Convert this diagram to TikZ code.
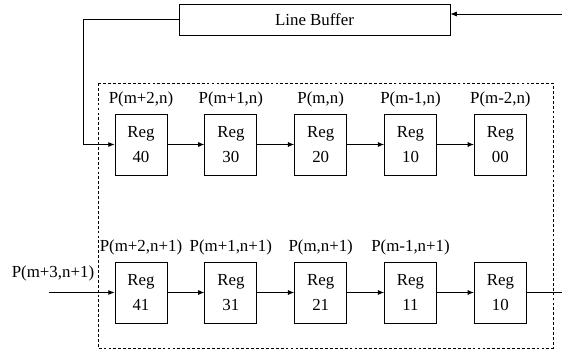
\documentclass[tikz,border=0pt]{standalone}
\usepackage{fontspec}
\setmainfont{Liberation Serif}
\usepackage{tikz}
\usetikzlibrary{arrows, arrows.meta, positioning, calc}

\begin{document}
\begin{tikzpicture}[
  node distance=0.925cm,
  reg/.style={rectangle, draw, line width=0.6pt, minimum width=1.3cm, minimum height=1.525cm, inner sep=0pt, align=center, font=\fontsize{12}{18}\selectfont},
  buffer/.style={rectangle, draw, line width=0.6pt, minimum width=6.775cm, minimum height=0.775cm, font=\fontsize{12}{14}\selectfont},
  plabel/.style={inner sep=1pt, font=\fontsize{12}{14}\selectfont},
  arrow/.style={-{Latex[length=4.5pt, width=3.6pt]}, line width=0.6pt}
]
\useasboundingbox (0,0) rectangle (14.05,-8.75);

\node[buffer] (lb) at (7.8625,-0.4875) {Line Buffer};

% dashed register block
\draw[line width=0.6pt, dash pattern=on 2pt off 1.5pt] (2.45,-2.075) rectangle (13.825,-8.7);

% row n
\node[reg] (r40) at (3.525,-3.6125) {Reg\\40};
\node[reg, right=of r40] (r30) {Reg\\30};
\node[reg, right=of r30] (r20) {Reg\\20};
\node[reg, right=of r20] (r10) {Reg\\10};
\node[reg, right=of r10] (r00) {Reg\\00};

\node[plabel, above=0.12cm of r40] (p40) {P(m+2,n)};
\node[plabel, above=0.12cm of r30] (p30) {P(m+1,n)};
\node[plabel, above=0.12cm of r20] (p20) {P(m,n)};
\node[plabel, above=0.12cm of r10] (p10) {P(m-1,n)};
\node[plabel, above=0.12cm of r00] (p00) {P(m-2,n)};

% row n+1
\node[reg] (r41) at (3.525,-7.3125) {Reg\\41};
\node[reg, right=of r41] (r31) {Reg\\31};
\node[reg, right=of r31] (r21) {Reg\\21};
\node[reg, right=of r21] (r11) {Reg\\11};
\node[reg, right=of r11] (r1o) {Reg\\10};

\node[plabel, above=0.12cm of r41] (p41) {P(m+2,n+1)};
\node[plabel, above=0.12cm of r31] (p31) {P(m+1,n+1)};
\node[plabel, above=0.12cm of r21] (p21) {P(m,n+1)};
\node[plabel, above=0.12cm of r11] (p11) {P(m-1,n+1)};

\node[plabel] (pin) at (1.325,-6.825) {P(m+3,n+1)};
\coordinate (src) at (1.225,-7.3125);
\coordinate (lin) at (14.05,-0.35);
\coordinate (out) at (14.05,-7.3125);

\draw[arrow] (lin) -- (lin -| lb.east);
\draw[arrow] (lb.west) -- ++(-2.375,0) |- (r40.west);
\draw[arrow] (r40) -- (r30);
\draw[arrow] (r30) -- (r20);
\draw[arrow] (r20) -- (r10);
\draw[arrow] (r10) -- (r00);

\draw[arrow] (src) -- (r41);
\draw[arrow] (r41) -- (r31);
\draw[arrow] (r31) -- (r21);
\draw[arrow] (r21) -- (r11);
\draw[arrow] (r11) -- (r1o);
\draw[line width=0.6pt] (r1o.east) -- (out);
\end{tikzpicture}
\end{document}
